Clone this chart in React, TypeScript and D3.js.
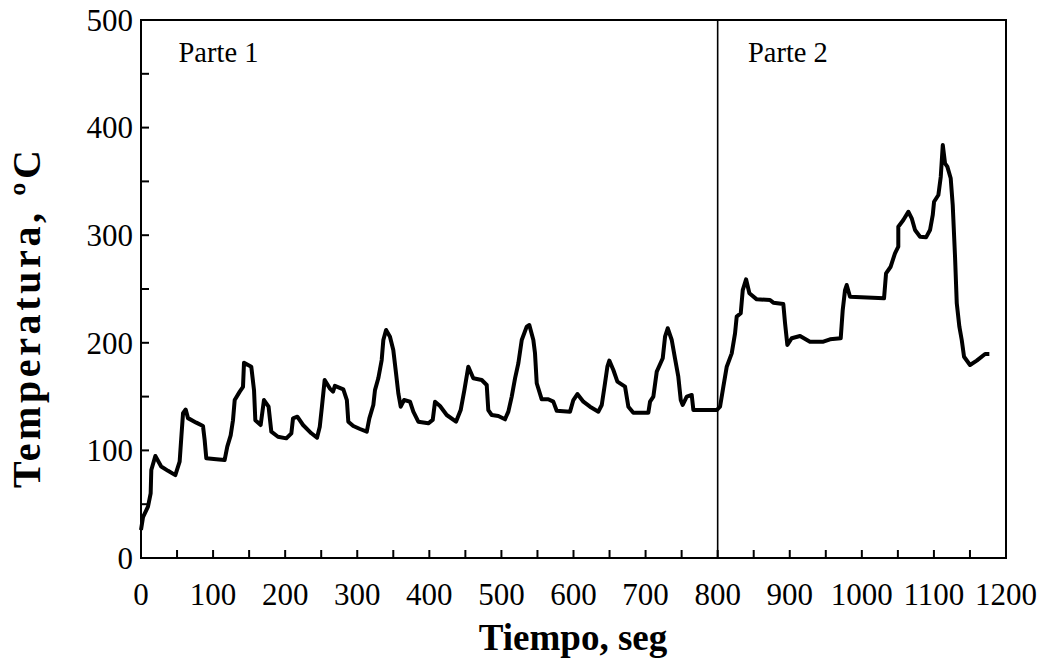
import React from "react";
import * as d3 from "d3";

const timeSec: number[] = [
  0, 2.8, 9.7, 13.4, 14.3, 19.9, 28, 37.5, 47.6, 53.6, 56, 58.3, 62, 65.2, 76.7, 86, 88.3, 90.6,
  104.5, 116, 119.7, 124.4, 127.6, 130, 137, 141.5, 142.9, 153, 156.8, 158.6, 166, 170.6, 177,
  180.8, 190, 201.6, 208.6, 210.9, 216.9, 224.8, 236.3, 244.2, 248, 251, 254.8, 261.8, 266.4,
  269, 280.7, 285.6, 287.6, 294.5, 303.8, 313.2, 316.8, 322.3, 324.6, 329.2, 333.9, 336.2, 340,
  345.4, 350, 353.8, 357, 360.3, 364.9, 373.2, 377.8, 384.7, 398.6, 404.7, 407.9, 414.8, 424.1,
  437, 443.5, 448.6, 454.1, 461, 472.7, 479.6, 481.8, 486.5, 495.7, 505, 509.6, 514.3, 518.9,
  523.5, 528.2, 535.1, 538.7, 544.3, 546.6, 549, 555.9, 565, 572, 576.7, 595.2, 599.8, 605.4,
  613.7, 622.9, 634.5, 639.2, 643.7, 647, 649.7, 655.3, 660.9, 671.5, 676.1, 683, 703.8, 706.2,
  710.8, 715.5, 723.8, 727, 730.7, 736.3, 740.8, 745.4, 748.8, 751.5, 757.1, 764, 766.3, 798.7,
  803.3, 807.9, 812.6, 819.5, 824.1, 826.4, 832, 834.8, 839.4, 844, 854.2, 872.6, 877.2, 891.1,
  893.5, 896.7, 902.7, 914.3, 928, 946.6, 955.9, 970.7, 973.5, 976.7, 979, 983.6, 1030.8,
  1033.6, 1040, 1046, 1050.6, 1050.6, 1057.6, 1064.5, 1069.2, 1073.8, 1080.8, 1089.1, 1094.6,
  1098.4, 1100.2, 1106.2, 1109.5, 1112.3, 1115.4, 1118.6, 1123.3, 1126.1, 1129.3, 1131.7,
  1135.3, 1138.6, 1141.8, 1150.1, 1159.4, 1171, 1176.9,
];

const temperature: number[] = [
  26, 38, 47.7, 60, 81.8, 94.8, 85, 81, 77, 89.5, 112.8, 134.5, 138, 130, 125.8, 122.7, 109.7, 92.6,
  91.7, 91, 103.5, 114, 128, 146.8, 154.6, 159, 181.5, 177.8, 156, 128, 123.6, 146.8, 140.6,
  117.4, 112.7, 111.2, 115.9, 129.8, 131.3, 123.6, 115.9, 111.8, 122, 140.6, 165.4, 157.7, 154.6,
  160, 156.8, 146.8, 126.7, 122.7, 119.9, 117.4, 129.8, 142.2, 156, 167, 184, 202.6, 211.9,
  205.7, 193.3, 171.6, 153, 140.6, 146.8, 145.3, 136, 126.7, 125.2, 128.3, 145.3, 141.3, 132.9,
  126.7, 137.5, 156, 177.8, 167, 165.4, 160.8, 137.5, 132.9, 132, 128.9, 136, 150, 167,
  181, 202.6, 215, 216.5, 202.6, 190.2, 162.4, 147.5, 147.5, 145.3, 136.9, 136, 146.8, 152.4,
  145.3, 140.6, 136, 142.2, 162.4, 177.8, 183.4, 174.7, 163.9, 159.2, 140.6, 135, 135, 145.3,
  150, 173.2, 185.6, 205.7, 213.5, 202.6, 185.6, 168.5, 146.8, 142.2, 150, 151.5, 137.5, 137.5,
  140.6, 159.2, 177.8, 190.2, 208.8, 224.3, 227.4, 249, 259, 246, 240.4, 239.8, 237.3, 236,
  218, 198, 204.2, 206.3, 201, 201, 203.2, 204.2, 230.5, 249, 253.7, 242.8, 241.3,
  264.6, 270.7, 283.2, 289.3, 307.9, 314.1, 321.8, 315.7, 304.8, 298.6, 298, 304.8,
  318.8, 331.1, 337.4, 354.4, 383.8, 366.8, 363.7, 352.9, 328, 280, 236.7,
  215, 202.6, 187, 179.4, 183.4, 189.6, 189.6,
];

const xTickLabels: number[] = [0, 100, 200, 300, 400, 500, 600, 700, 800, 900, 1000, 1100, 1200];
const yTickLabels: number[] = [0, 100, 200, 300, 400, 500];
const partLabels: { text: string; t: number }[] = [
  { text: "Parte 1", t: 52 },
  { text: "Parte 2", t: 842 },
];
const partDivider = 800;

const W = 1043;
const H = 661;
const left = 141;
const right = 1006;
const top = 20;
const bottom = 558;
const FONT = "'Liberation Serif', 'Times New Roman', serif";

export default function App() {
  const x = d3.scaleLinear().domain([0, 1200]).range([left, right]);
  const y = d3.scaleLinear().domain([0, 500]).range([bottom, top]);
  const pts: [number, number][] = timeSec.map((t, i) => [t, temperature[i]]);
  const line = d3
    .line<[number, number]>()
    .x((d) => x(d[0]))
    .y((d) => y(d[1]));
  const xMinor = d3.range(0, 1201, 50);
  const yMinor = d3.range(0, 501, 50);

  return (
    <svg
      width={W}
      height={H}
      style={{ position: "absolute", left: 0, top: 0, background: "#fff" }}
      fontFamily={FONT}
    >
      <rect x={0} y={0} width={W} height={H} fill="#fff" />
      <path d={line(pts) || ""} fill="none" stroke="#000" strokeWidth={4} strokeLinejoin="round" />
      <line x1={x(partDivider)} x2={x(partDivider)} y1={top} y2={bottom} stroke="#000" strokeWidth={1.6} />
      <rect x={left} y={top} width={right - left} height={bottom - top} fill="none" stroke="#000" strokeWidth={2} />
      {xMinor.map((v) => (
        <line key={"xt" + v} x1={x(v)} x2={x(v)} y1={bottom} y2={bottom - 8} stroke="#000" strokeWidth={2} />
      ))}
      {yMinor.map((v) => (
        <line key={"yt" + v} x1={left} x2={left + 8} y1={y(v)} y2={y(v)} stroke="#000" strokeWidth={2} />
      ))}
      {xTickLabels.map((v) => (
        <text key={"xl" + v} x={x(v)} y={605} textAnchor="middle" fontSize={31} fill="#000">
          {v}
        </text>
      ))}
      {yTickLabels.map((v) => (
        <text key={"yl" + v} x={133} y={y(v)} dy="0.35em" textAnchor="end" fontSize={31} fill="#000">
          {v}
        </text>
      ))}
      {partLabels.map((p) => (
        <text key={p.text} x={x(p.t)} y={62} fontSize={28.5} fill="#000">
          {p.text}
        </text>
      ))}
      <text x={573} y={650} textAnchor="middle" fontSize={37} fontWeight="bold" fill="#000">
        Tiempo, seg
      </text>
      <text
        transform={`translate(40, 319) rotate(-90)`}
        textAnchor="middle"
        fontSize={40}
        fontWeight="bold"
        fill="#000"
        textLength={338}
        lengthAdjust="spacing"
      >
        Temperatura, ºC
      </text>
    </svg>
  );
}
